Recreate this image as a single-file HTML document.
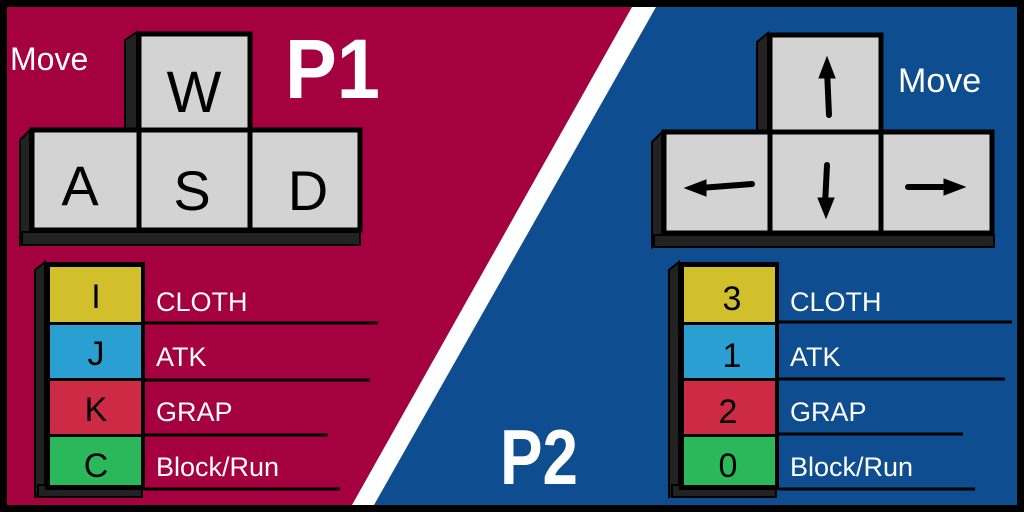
<!DOCTYPE html>
<html><head><meta charset="utf-8"><style>
html,body{margin:0;padding:0;background:#000;}
svg{display:block}
text{font-family:"Liberation Sans",sans-serif;}
</style></head><body>
<svg width="1024" height="512" viewBox="0 0 1024 512" xmlns="http://www.w3.org/2000/svg">
<rect x="0" y="0" width="1024" height="512" fill="#000"/>
<rect x="7" y="7" width="1010" height="498" fill="#0e4d8f"/>
<polygon points="7,7 632,7 352,505 7,505" fill="#a50040"/>
<polygon points="632,7 656,7 374,505 352,505" fill="#fff"/>

<!-- P1 keys -->
<g>
<polygon points="125,40 137,32 137,130 125,130" fill="#222" stroke="#000" stroke-width="2"/>
<polygon points="20,140 30,130 30,232 20,245" fill="#222" stroke="#000" stroke-width="2"/>
<rect x="22" y="232" width="338" height="13" fill="#222" stroke="#000" stroke-width="2"/>
<rect x="139" y="34" width="111" height="96" fill="#d3d3d3" stroke="#000" stroke-width="5"/>
<rect x="32" y="130" width="107" height="100" fill="#d3d3d3" stroke="#000" stroke-width="5"/>
<rect x="139" y="130" width="111" height="100" fill="#d3d3d3" stroke="#000" stroke-width="5"/>
<rect x="250" y="130" width="110" height="100" fill="#d3d3d3" stroke="#000" stroke-width="5"/>
<text x="194" y="112" font-size="58" text-anchor="middle" fill="#000">W</text>
<text x="80" y="205" font-size="56" text-anchor="middle" fill="#000">A</text>
<text x="192" y="210" font-size="56" text-anchor="middle" fill="#000">S</text>
<text x="308" y="210" font-size="56" text-anchor="middle" fill="#000">D</text>
</g>
<text x="10" y="70" font-size="32" fill="#fff">Move</text>
<text x="285" y="98" font-size="84" font-weight="bold" fill="#fff" textLength="95" lengthAdjust="spacingAndGlyphs">P1</text>

<!-- P2 keys -->
<g>
<polygon points="757,42 768,33 768,132 757,132" fill="#222" stroke="#000" stroke-width="2"/>
<polygon points="652,142 662,132 662,235 652,247" fill="#222" stroke="#000" stroke-width="2"/>
<rect x="654" y="235" width="340" height="12" fill="#222" stroke="#000" stroke-width="2"/>
<rect x="770" y="35" width="111" height="97" fill="#d3d3d3" stroke="#000" stroke-width="5"/>
<rect x="664" y="132" width="106" height="101" fill="#d3d3d3" stroke="#000" stroke-width="5"/>
<rect x="770" y="132" width="111" height="101" fill="#d3d3d3" stroke="#000" stroke-width="5"/>
<rect x="881" y="132" width="111" height="101" fill="#d3d3d3" stroke="#000" stroke-width="5"/>
<g stroke="#000" stroke-width="6" stroke-linecap="round" fill="#000">
<line x1="829" y1="115" x2="827" y2="70"/><polygon points="827,57 819,78 835,78" stroke-width="1"/>
<line x1="827" y1="165" x2="825" y2="205"/><polygon points="826,218 818,198 834,198" stroke-width="1"/>
<line x1="752" y1="184" x2="700" y2="188"/><polygon points="685,188 706,180 706,196" stroke-width="1"/>
<line x1="908" y1="187" x2="955" y2="187"/><polygon points="965,187 944,179 944,195" stroke-width="1"/>
</g>
</g>
<text x="898" y="92" font-size="34" fill="#fff">Move</text>
<text x="500" y="484" font-size="78" font-weight="bold" fill="#fff" textLength="78" lengthAdjust="spacingAndGlyphs">P2</text>

<!-- P1 table -->
<g>
<polygon points="35,270 45,262 45,490 35,497" fill="#222" stroke="#000" stroke-width="2"/>
<rect x="38" y="485" width="104" height="12" fill="#222" stroke="#000" stroke-width="2"/>
<rect x="45" y="262" width="100" height="228" fill="#000"/>
<rect x="50" y="267" width="91" height="55" fill="#d1bf2c"/>
<rect x="50" y="325" width="91" height="53" fill="#2aa0d2"/>
<rect x="50" y="381" width="91" height="53" fill="#cc2a45"/>
<rect x="50" y="437" width="91" height="48" fill="#2ab85a"/>
<g font-size="34" text-anchor="middle" fill="#000">
<text x="96" y="308">I</text><text x="96" y="365">J</text><text x="96" y="421">K</text><text x="96" y="477">C</text>
</g>
<g stroke="#000" stroke-width="3">
<line x1="145" y1="323" x2="378" y2="323"/><line x1="145" y1="380" x2="370" y2="380"/>
<line x1="145" y1="435" x2="328" y2="435"/><line x1="145" y1="489" x2="340" y2="489"/>
</g>
<g font-size="27" fill="#fff">
<text x="156" y="311">CLOTH</text><text x="156" y="366">ATK</text><text x="156" y="421">GRAP</text><text x="156" y="476">Block/Run</text>
</g>
</g>

<!-- P2 table -->
<g>
<polygon points="669,270 679,262 679,490 669,497" fill="#222" stroke="#000" stroke-width="2"/>
<rect x="672" y="485" width="104" height="12" fill="#222" stroke="#000" stroke-width="2"/>
<rect x="679" y="262" width="100" height="228" fill="#000"/>
<rect x="684" y="267" width="91" height="55" fill="#d1bf2c"/>
<rect x="684" y="325" width="91" height="53" fill="#2aa0d2"/>
<rect x="684" y="381" width="91" height="53" fill="#cc2a45"/>
<rect x="684" y="437" width="91" height="48" fill="#2ab85a"/>
<g font-size="34" text-anchor="middle" fill="#000">
<text x="732" y="310">3</text><text x="732" y="367">1</text><text x="728" y="423">2</text><text x="728" y="477">0</text>
</g>
<g stroke="#000" stroke-width="3">
<line x1="779" y1="322" x2="1012" y2="322"/><line x1="779" y1="379" x2="1005" y2="379"/>
<line x1="779" y1="434" x2="963" y2="434"/><line x1="779" y1="489" x2="975" y2="489"/>
</g>
<g font-size="27" fill="#fff">
<text x="790" y="311">CLOTH</text><text x="790" y="366">ATK</text><text x="790" y="421">GRAP</text><text x="790" y="476">Block/Run</text>
</g>
</g>
</svg>
</body></html>
